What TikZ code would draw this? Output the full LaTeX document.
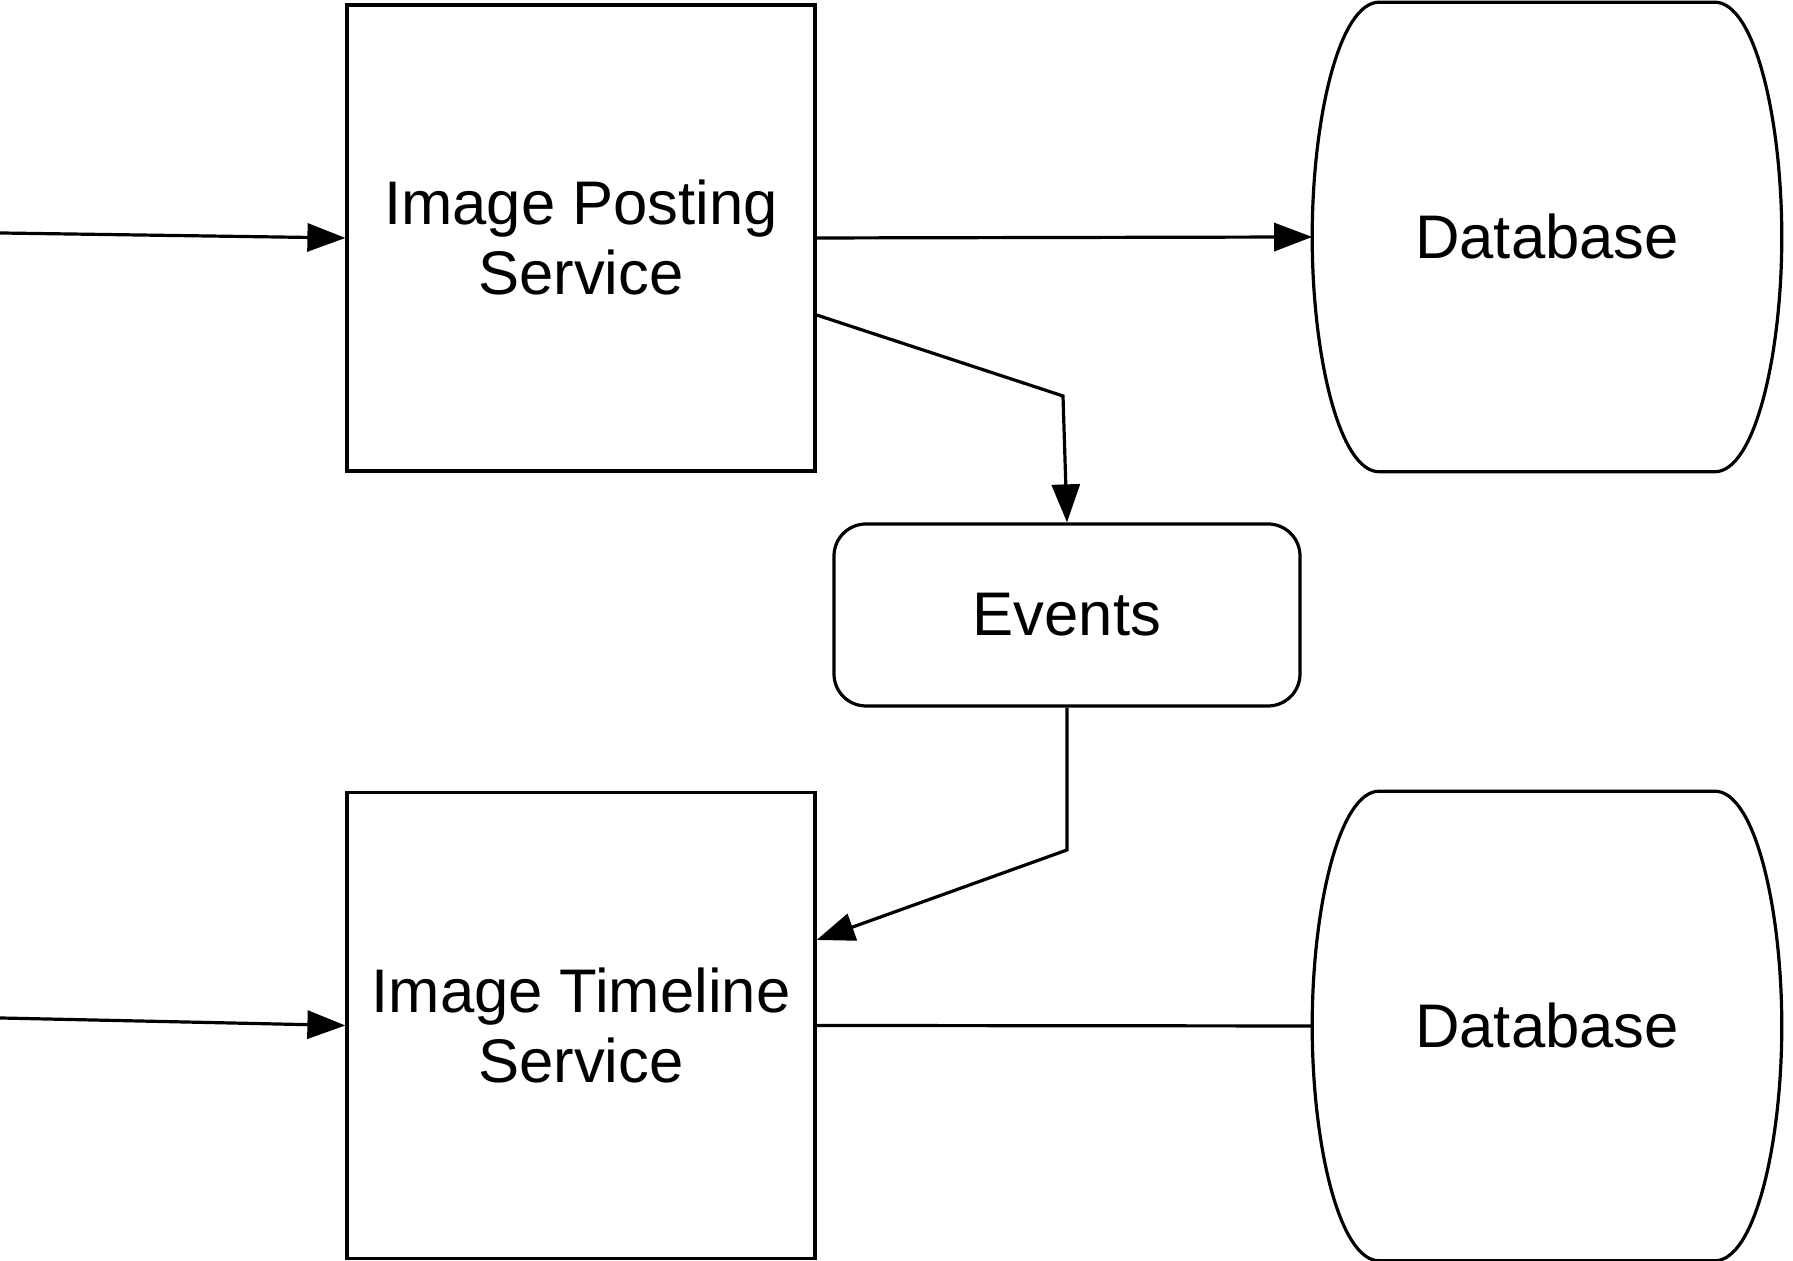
\documentclass[tikz,border=0pt]{standalone}
\usepackage{fontspec}
\setmainfont{Liberation Sans}
\usetikzlibrary{arrows.meta,calc}

\begin{document}
\begin{tikzpicture}[x=25pt, y=25pt,
    font=\fontsize{15.4}{17.5}\selectfont,
    service/.style={draw, line width=0.8pt, minimum width=117pt, minimum height=116.5pt, align=center, inner sep=0pt},
    queue/.style={draw, line width=0.8pt, rounded corners=8pt, minimum width=116.5pt, minimum height=45.5pt},
    store/.style={minimum width=117pt, minimum height=117pt, inner sep=0pt},
    flow/.style={line width=0.8pt, -{Triangle[length=9.5pt, width=7pt]}},
    link/.style={line width=0.8pt}]
    \useasboundingbox (0,0) rectangle (17.93,12.61);

    % Services
    \node[service] (post) at (5.81,10.23) {Image Posting\\Service};
    \node[service] (timeline) at (5.81,2.355) {Image Timeline\\Service};

    % Event queue
    \node[queue] (events) at (10.67,6.46) {Events};

    % Databases
    \node[store] (postdb) at (15.47,10.24) {Database};
    \node[store] (timelinedb) at (15.47,2.35) {Database};
    \foreach \db in {postdb,timelinedb}
        \draw[link] ($(\db.north west)+(0.67,0)$) -- ($(\db.north east)+(-0.67,0)$)
            .. controls ($(\db.north east)+(-0.27,0)$) and ($(\db.east)+(0,1.18)$) .. (\db.east)
            .. controls ($(\db.east)+(0,-1.18)$) and ($(\db.south east)+(-0.27,0)$) .. ($(\db.south east)+(-0.67,0)$)
            -- ($(\db.south west)+(0.67,0)$)
            .. controls ($(\db.south west)+(0.27,0)$) and ($(\db.west)+(0,-1.18)$) .. (\db.west)
            .. controls ($(\db.west)+(0,1.18)$) and ($(\db.north west)+(0.27,0)$) .. cycle;

    % Incoming requests
    \coordinate (postin) at (0,10.28);
    \coordinate (timelinein) at (0,2.43);
    \draw[flow] (postin) -- (post.west);
    \draw[flow] (timelinein) -- (timeline.west);

    % Connections
    \draw[flow] (post.east) -- (postdb.west);
    \coordinate (postbend) at (10.63,8.65);
    \draw[flow] ($(post.east)+(0,-0.77)$) -- (postbend) -- (events.north);
    \coordinate (eventsbend) at (10.67,4.11);
    \draw[flow] (events.south) -- (eventsbend) -- ($(timeline.east)+(0,0.855)$);
    \draw[link] (timeline.east) -- (timelinedb.west);
\end{tikzpicture}
\end{document}
